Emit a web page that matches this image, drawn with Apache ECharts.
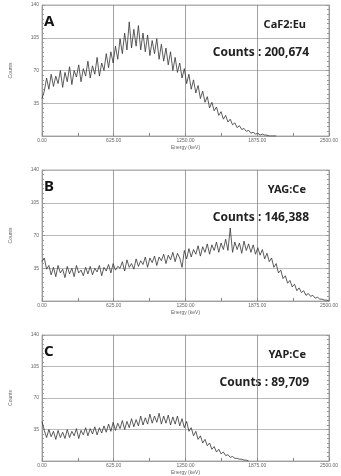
<!DOCTYPE html>
<html>
<head>
    <meta charset="utf-8">
    <title>Spectra</title>
    <script src="https://cdn.jsdelivr.net/npm/echarts@6/dist/echarts.min.js"></script>
    <style>
        html, body { margin: 0; padding: 0; background: #fff; }
    </style>
</head>
<body>
<div id="main" style="width: 341px;height:476px;"></div>
<script type="text/javascript">
    // energy channel step (keV)
    var step = 20;

    var panelLetters = ['A', 'B', 'C'];
    var materials = ['CaF2:Eu', 'YAG:Ce', 'YAP:Ce'];
    var totals = ['200,674', '146,388', '89,709'];

    // counts per channel
    var countsA = [40, 48, 62, 50, 66, 53, 64, 56, 70, 52, 68, 58, 74, 55, 70, 63, 76, 58, 72, 64,
        80, 62, 75, 66, 84, 64, 78, 70, 88, 73, 90, 78, 96, 82, 104, 88, 110, 92, 122, 94,
        114, 96, 118, 92, 110, 90, 108, 86, 102, 88, 104, 82, 98, 80, 94, 76, 90, 70, 84, 68,
        78, 62, 72, 56, 66, 50, 60, 46, 54, 40, 48, 36, 42, 30, 36, 27, 31, 22, 26, 18,
        22, 15, 18, 12, 14, 9, 11, 7, 8, 5, 6, 3, 4, 2, 3, 1, 2, 1, 1, 0, 0, 0, 0];

    var countsB = [42, 46, 34, 38, 28, 36, 26, 38, 30, 34, 25, 37, 29, 35, 26, 38, 30, 33, 27, 36,
        29, 37, 28, 35, 31, 38, 27, 36, 32, 39, 30, 40, 33, 37, 35, 42, 32, 44, 36, 40,
        34, 45, 37, 43, 39, 47, 36, 46, 41, 48, 38, 47, 43, 50, 40, 49, 44, 52, 42, 51,
        46, 36, 54, 45, 56, 47, 55, 50, 59, 48, 58, 52, 61, 50, 60, 54, 63, 52, 62, 55,
        66, 54, 78, 52, 63, 55, 62, 51, 64, 54, 61, 52, 60, 50, 57, 49, 55, 45, 51, 42,
        46, 36, 40, 30, 33, 24, 27, 19, 22, 15, 18, 11, 14, 9, 11, 6, 8, 5, 6, 3,
        4, 2, 2, 1, 1, 0];

    var countsC = [44, 34, 26, 35, 27, 33, 24, 34, 26, 32, 25, 35, 26, 33, 28, 36, 25, 34, 29, 37,
        28, 36, 30, 38, 29, 37, 31, 39, 32, 41, 33, 43, 34, 42, 36, 45, 35, 44, 37, 47,
        38, 46, 39, 50, 40, 48, 41, 52, 42, 50, 43, 53, 41, 50, 42, 51, 40, 49, 41, 50,
        39, 47, 37, 44, 33, 37, 28, 33, 24, 28, 20, 24, 17, 20, 13, 16, 10, 13, 8, 10,
        6, 7, 4, 5, 3, 3, 2, 2, 1, 1, 0];

    var allCounts = [countsA, countsB, countsC];

    // plot area positions (px)
    var tops = [5, 170, 335];
    var plotH = 131;
    var plotL = 37, plotR = 11;

    var myChart = echarts.init(document.getElementById('main'));

    var grids = [], xAxes = [], yAxes = [], series = [], graphics = [];
    var tiny = { fontSize: 5, color: '#666', fontFamily: 'Liberation Sans' };
    var frame = { show: true, lineStyle: { color: '#999', width: 0.8 } };

    allCounts.forEach(function (counts, k) {
        grids.push({
            left: plotL, right: plotR, top: tops[k], height: plotH,
            show: true, borderColor: '#999', borderWidth: 0.8
        });
        xAxes.push({
            type: 'value', gridIndex: k, min: 0, max: 2500, interval: 625,
            name: 'Energy (keV)', nameLocation: 'middle', nameGap: 9,
            nameTextStyle: tiny,
            axisLine: frame,
            axisTick: { show: true, inside: true, length: 3, lineStyle: { color: '#888' } },
            minorTick: { show: true, splitNumber: 2, length: 3, lineStyle: { color: '#888' } },
            axisLabel: Object.assign({ margin: 2, formatter: function (v) { return v.toFixed(2); } }, tiny),
            splitLine: { show: true, lineStyle: { color: '#888', width: 0.8 } }
        });
        yAxes.push({
            type: 'value', gridIndex: k, min: 0, max: 140, interval: 35,
            name: 'Counts', nameLocation: 'middle', nameGap: 29, nameRotate: 90,
            nameTextStyle: tiny,
            axisLine: frame,
            axisTick: { show: true, inside: true, length: 3, lineStyle: { color: '#999' } },
            minorTick: { show: true, splitNumber: 7, length: 2, lineStyle: { color: '#999' } },
            axisLabel: Object.assign({ margin: 3, formatter: function (v) { return v === 0 ? '' : v; } }, tiny),
            splitLine: { show: true, lineStyle: { color: '#aaa', width: 0.8 } }
        });
        yAxes.push({
            type: 'value', gridIndex: k, position: 'right', min: 0, max: 140, interval: 35,
            axisLine: frame,
            axisTick: { show: true, inside: true, length: 3, lineStyle: { color: '#999' } },
            minorTick: { show: true, splitNumber: 7, length: 2, lineStyle: { color: '#999' } },
            axisLabel: { show: false },
            splitLine: { show: false }
        });
        series.push({
            type: 'line', xAxisIndex: k, yAxisIndex: k * 2,
            showSymbol: false, silent: true,
            lineStyle: { color: '#333', width: 0.8 },
            data: counts.map(function (c, i) { return [i * step, c]; })
        });

        graphics.push({
            type: 'text', left: 44, top: tops[k] + 9,
            style: { text: panelLetters[k], font: 'bold 15px "Noto Sans"', fill: '#111' }
        });
        graphics.push({
            type: 'text', right: 35, top: tops[k] + 14,
            style: { text: materials[k], font: 'bold 11px "Noto Sans"', fill: '#222' }
        });
        graphics.push({
            type: 'text', right: 32, top: tops[k] + 42,
            style: { text: 'Counts : ' + totals[k], font: 'bold 12px "Noto Sans"', fill: '#222' }
        });
    });

    var option = {
        backgroundColor: '#fff',
        animation: false,
        grid: grids,
        xAxis: xAxes,
        yAxis: yAxes,
        series: series,
        graphic: graphics
    };

    myChart.setOption(option);
</script>
</body>
</html>
